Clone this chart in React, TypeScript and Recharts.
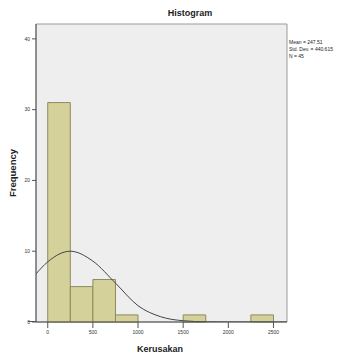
import React from "react";
import { ComposedChart, XAxis, YAxis, Line, ReferenceArea } from "recharts";

const binStarts = [0, 250, 500, 750, 1500, 2250];
const binEnds = [250, 500, 750, 1000, 1750, 2500];
const frequencies = [31, 5, 6, 1, 1, 1];
const xTicks = [0, 500, 1000, 1500, 2000, 2500];
const yTicks = [0, 10, 20, 30, 40];
const curveX = [-130, 0, 250, 500, 750, 1000, 1250, 1500, 1750, 2000, 2250, 2500, 2650];
const curveY = [6.8, 8.5, 10.0, 8.6, 5.5, 2.3, 0.75, 0.18, 0.03, 0, 0, 0, 0];
const legendLines = ["Mean = 247.51", "Std. Dev. = 440.615", "N = 45"];

const curveData = curveX.map((x, i) => ({ x, y: curveY[i] }));

const FONT = '"Liberation Sans", Arial, sans-serif';

export default function App() {
  return (
    <div style={{ position: "absolute", left: 0, top: 0, width: 343, height: 356, background: "#fff", fontFamily: FONT }}>
      <ComposedChart
        width={343}
        height={356}
        data={curveData}
        margin={{ top: 24, right: 56, left: 0, bottom: 0 }}
      >
        <XAxis
          type="number"
          dataKey="x"
          domain={[-130, 2650]}
          ticks={xTicks}
          height={34}
          tick={{ fontSize: 5, fill: "#333", fontFamily: FONT }}
          tickSize={6}
          stroke="#555"
          allowDataOverflow
        />
        <YAxis
          type="number"
          domain={[0, 42.1]}
          ticks={yTicks}
          width={36}
          tick={{ fontSize: 5, fill: "#333", fontFamily: FONT }}
          tickSize={4}
          stroke="#555"
          allowDataOverflow
        />
        <ReferenceArea x1={-130} x2={2650} y1={0} y2={42.1} fill="#eeeeee" fillOpacity={1} stroke="#9a9a9a" strokeWidth={1} />
        {binStarts.map((s, i) => (
          <ReferenceArea
            key={i}
            x1={s}
            x2={binEnds[i]}
            y1={0}
            y2={frequencies[i]}
            fill="#d5d19b"
            fillOpacity={1}
            stroke="#8f8a5e"
            strokeWidth={1}
          />
        ))}
        <Line
          type="monotone"
          dataKey="y"
          stroke="#444"
          strokeWidth={1}
          dot={false}
          isAnimationActive={false}
        />
      </ComposedChart>
      <div style={{ position: "absolute", left: 28, top: 321, width: 8, height: 1, background: "#555" }} />
      <div style={{ position: "absolute", left: 140, top: 8, width: 100, textAlign: "center", fontSize: 9, fontWeight: "bold", color: "#222" }}>
        Histogram
      </div>
      <div style={{ position: "absolute", left: 110, top: 344, width: 100, textAlign: "center", fontSize: 9, fontWeight: "bold", color: "#222" }}>
        Kerusakan
      </div>
      <div
        style={{
          position: "absolute",
          left: 12,
          top: 173,
          transform: "translate(-50%, -50%) rotate(-90deg)",
          fontSize: 9.5,
          fontWeight: "bold",
          color: "#222",
          whiteSpace: "nowrap",
        }}
      >
        Frequency
      </div>
      <div style={{ position: "absolute", left: 289, top: 39, fontSize: 5, lineHeight: "7px", color: "#222", whiteSpace: "nowrap" }}>
        {legendLines.map((t, i) => (
          <div key={i}>{t}</div>
        ))}
      </div>
    </div>
  );
}
